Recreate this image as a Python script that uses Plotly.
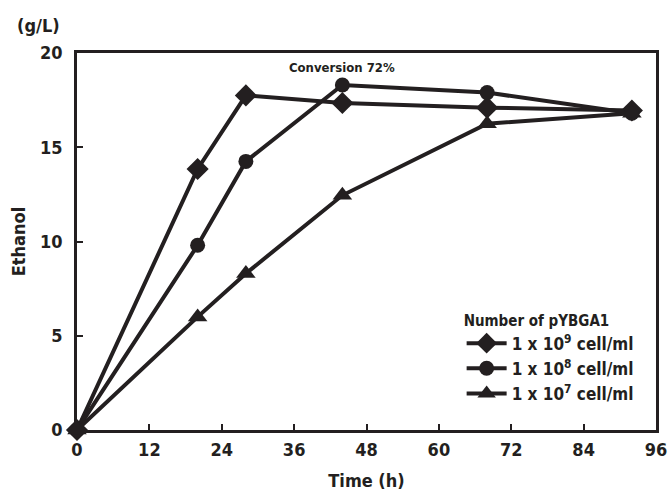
import plotly.graph_objects as go

time_h = [0, 20, 28, 44, 68, 92]
ethanol_1e9 = [0, 13.85, 17.75, 17.35, 17.1, 16.95]
ethanol_1e8 = [0, 9.8, 14.25, 18.3, 17.9, 16.8]
ethanol_1e7 = [0, 6.0, 8.3, 12.45, 16.25, 16.8]

series_names = ["1 x 10<sup>9</sup> cell/ml", "1 x 10<sup>8</sup> cell/ml", "1 x 10<sup>7</sup> cell/ml"]
series_values = [ethanol_1e9, ethanol_1e8, ethanol_1e7]
symbols = ["diamond", "circle", "triangle-up"]
x_ticks = [0, 12, 24, 36, 48, 60, 72, 84, 96]
y_ticks = [0, 5, 10, 15, 20]

INK = "#231f20"
FONT = "DejaVu Sans Condensed, Liberation Sans Narrow, Arial, sans-serif"

def f(size):
    return dict(size=size, family=FONT, color=INK, weight="bold")

fig = go.Figure()
for name, vals, sym in zip(series_names, series_values, symbols):
    fig.add_trace(go.Scatter(
        x=time_h, y=vals, name=name, mode="lines+markers",
        line=dict(color=INK, width=4),
        marker=dict(symbol=sym, size=17 if sym != "circle" else 15, color=INK),
        cliponaxis=False,
    ))

fig.update_layout(
    width=669, height=494,
    margin=dict(l=77, r=13, t=53, b=64, autoexpand=False),
    paper_bgcolor="white", plot_bgcolor="white",
    font=f(15),
    showlegend=True,
    legend=dict(
        title=dict(text="Number of pYBGA1", font=f(15)),
        font=f(17),
        x=0.97, xanchor="right", y=0.05, yanchor="bottom",
        bgcolor="rgba(0,0,0,0)", tracegroupgap=0, itemwidth=40,
    ),
    xaxis=dict(
        range=[0, 96], tickvals=x_ticks, ticks="inside", ticklen=6, tickwidth=2, tickcolor=INK,
        showline=True, linecolor=INK, linewidth=2.5, mirror=True, showgrid=False, zeroline=False,
        tickfont=f(18), ticklabelstandoff=2, automargin=False,
        title=dict(text="Time (h)", font=f(18), standoff=16),
    ),
    yaxis=dict(
        range=[0, 20], tickvals=y_ticks, ticks="inside", ticklen=6, tickwidth=2, tickcolor=INK,
        showline=True, linecolor=INK, linewidth=2.5, mirror=True, showgrid=False, zeroline=False,
        tickfont=f(18), ticklabelstandoff=8, automargin=False,
        title=dict(text="Ethanol", font=f(18), standoff=10),
    ),
    annotations=[
        dict(text="(g/L)", x=-0.067, xref="paper", xanchor="center", y=1.0, yref="paper",
             yanchor="bottom", yshift=15, showarrow=False, font=f(18)),
        dict(text="Conversion 72%", x=44, y=19.25, xref="x", yref="y", showarrow=False,
             font=f(13)),
    ],
)

fig.write_html("out.html", post_script="document.body.style.margin='0';",
               config={"displayModeBar": False})
